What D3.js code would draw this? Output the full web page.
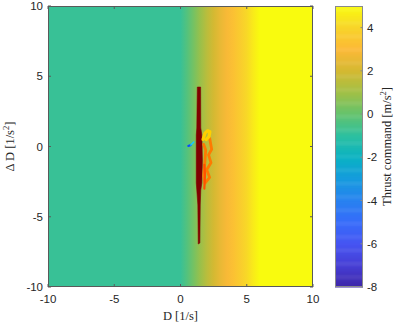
<!DOCTYPE html>
<html><head><meta charset="utf-8">
<script src="https://cdn.jsdelivr.net/npm/d3@7"></script>
<style>body{margin:0;background:#fff}svg{display:block}</style>
</head><body>
<script>
// ---- data ----
const xTicks = [-10, -5, 0, 5, 10];
const yTicks = [-10, -5, 0, 5, 10];
const cbTicks = [-8, -6, -4, -2, 0, 2, 4];
const cbDomain = [-8, 5];
// background thrust command profile along D (independent of ΔD)
const gridD      = [-10, 0, 0.5, 1, 1.5, 2, 2.5, 3, 3.5, 4, 4.5, 5, 5.5, 6, 10];
const gridThrust = [-0.8, -0.8, -0.3, 0.3, 0.9, 1.5, 2.0, 2.5, 2.9, 3.3, 3.7, 4.1, 4.6, 5, 5];
// trajectory pieces [D, ΔD]
const redBand = [[1.27,4.23],[1.52,4.23],[1.53,1.32],[1.61,0.82],[1.65,-0.96],[1.61,-2.6],[1.53,-3.1],[1.49,-4.16],[1.46,-6.87],[1.34,-6.94],[1.31,-4.16],[1.23,-3.1],[1.19,-2.6],[1.19,0.82],[1.23,1.32]];
const yellowPath = [[1.70,0.50],[1.85,0.95],[2.05,1.12],[2.22,1.05],[2.15,0.70],[1.95,0.50]];
const orangePath = [[2.20,0.60],[2.35,-0.20],[2.12,-0.60],[2.30,-1.15],[1.98,-1.65],[2.20,-2.20],[1.85,-2.60],[1.75,-2.10],[1.85,-0.95],[1.90,-0.25],[1.75,0.15]];
const redOrangePath = [[1.80,-1.30],[1.85,-2.00],[1.80,-3.00]];
const bluePath = [[0.59,0.04],[0.78,0.11]];
const cyanPath = [[0.78,0.11],[1.00,0.32]];

// colormap keys (parula-like), one per unit from -8 to 5
const cmapKeys = ["#3e26a8","#463ed4","#4655f2","#376cfa","#2882f0","#169bde","#0ab2c3","#2dc0a0","#64c36e","#a0c046","#d4b932","#fcb937","#f8d42a","#f9fb0e"];

// ---- layout ----
const W = 399, H = 326;
const P = {l: 48, r: 313, t: 6, b: 287};
const CB = {l: 335, r: 363};
const svg = d3.select("body").append("svg").attr("width", W).attr("height", H);
const x = d3.scaleLinear().domain([-10, 10]).range([P.l, P.r]);
const y = d3.scaleLinear().domain([-10, 10]).range([P.b, P.t]);
const color = d3.scaleSequential(d3.piecewise(d3.interpolateRgb, cmapKeys)).domain(cbDomain).clamp(true);
const cbY = d3.scaleLinear().domain(cbDomain).range([P.b, P.t]);

const defs = svg.append("defs");
const grad = defs.append("linearGradient").attr("id", "bg")
  .attr("gradientUnits", "userSpaceOnUse")
  .attr("x1", x(-10)).attr("x2", x(10)).attr("y1", 0).attr("y2", 0);
gridD.forEach((d, i) => grad.append("stop")
  .attr("offset", (x(d) - x(-10)) / (x(10) - x(-10)))
  .attr("stop-color", color(gridThrust[i])));
defs.append("clipPath").attr("id", "clip").append("rect")
  .attr("x", P.l).attr("y", P.t).attr("width", P.r - P.l).attr("height", P.b - P.t);

svg.append("rect").attr("x", P.l).attr("y", P.t).attr("width", P.r - P.l).attr("height", P.b - P.t)
  .attr("fill", "url(#bg)");

const g = svg.append("g").attr("clip-path", "url(#clip)");
const line = d3.line().x(d => x(d[0])).y(d => y(d[1]));
g.append("path").attr("d", line(redBand) + "Z").attr("fill", "#800000").attr("stroke", "#800000").attr("stroke-width", 0.6);
[[orangePath, "#ff7a00", 2.8], [redOrangePath, "#ff5200", 2.2], [yellowPath, "#ffd000", 3.2],
 [bluePath, "#0a4cff", 2.2], [cyanPath, "#18c8ff", 1.6]].forEach(([pts, c, w]) => {
  g.append("path").attr("d", line(pts)).attr("fill", "none").attr("stroke", c)
    .attr("stroke-width", w).attr("stroke-linejoin", "round").attr("stroke-linecap", "round");
});

// axes box and ticks
const axCol = "#262626", boxCol = "#5a5a5a";
svg.append("rect").attr("x", P.l + 0.5).attr("y", P.t + 0.5).attr("width", P.r - P.l - 1).attr("height", P.b - P.t - 1)
  .attr("fill", "none").attr("stroke", boxCol).attr("stroke-width", 1);
const tl = 3;
xTicks.forEach(t => {
  svg.append("line").attr("x1", x(t)).attr("x2", x(t)).attr("y1", P.b).attr("y2", P.b - tl).attr("stroke", boxCol);
  svg.append("line").attr("x1", x(t)).attr("x2", x(t)).attr("y1", P.t).attr("y2", P.t + tl).attr("stroke", boxCol);
  svg.append("text").attr("x", x(t)).attr("y", P.b + 16).attr("text-anchor", "middle")
    .attr("font-family", "Liberation Sans, Arial, sans-serif").attr("font-size", 11.5).attr("fill", axCol).text(t);
});
yTicks.forEach(t => {
  svg.append("line").attr("x1", P.l).attr("x2", P.l + tl).attr("y1", y(t)).attr("y2", y(t)).attr("stroke", boxCol);
  svg.append("line").attr("x1", P.r).attr("x2", P.r - tl).attr("y1", y(t)).attr("y2", y(t)).attr("stroke", boxCol);
  svg.append("text").attr("x", P.l - 5).attr("y", y(t) + 4).attr("text-anchor", "end")
    .attr("font-family", "Liberation Sans, Arial, sans-serif").attr("font-size", 11.5).attr("fill", axCol).text(t);
});

// axis labels
const serif = "Liberation Serif, DejaVu Serif, serif";
svg.append("text").attr("x", x(0)).attr("y", 320).attr("text-anchor", "middle")
  .attr("font-family", serif).attr("font-size", 12.5).attr("fill", axCol).text("D [1/s]");
const yl = svg.append("text").attr("transform", `translate(14,${y(0)}) rotate(-90)`).attr("text-anchor", "middle")
  .attr("font-family", serif).attr("font-size", 12.5).attr("fill", axCol);
yl.append("tspan").text("Δ D [1/s");
yl.append("tspan").attr("font-size", 8.5).attr("dy", -5).text("2");
yl.append("tspan").attr("dy", 5).text("]");

// colorbar
const steps = d3.range(0, 260);
const cbScaleStep = d3.scaleLinear().domain([0, 260]).range(cbDomain);
svg.append("g").selectAll("rect").data(steps).join("rect")
  .attr("x", CB.l).attr("width", CB.r - CB.l)
  .attr("y", d => cbY(cbScaleStep(d + 1)))
  .attr("height", d => cbY(cbScaleStep(d)) - cbY(cbScaleStep(d + 1)) + 0.5)
  .attr("fill", d => color(cbScaleStep(d + 0.5)));
svg.append("rect").attr("x", CB.l + 0.5).attr("y", P.t + 0.5).attr("width", CB.r - CB.l - 1).attr("height", P.b - P.t - 1)
  .attr("fill", "none").attr("stroke", "#8a8a8a").attr("stroke-width", 1);
cbTicks.forEach(t => {
  svg.append("line").attr("x1", CB.r).attr("x2", CB.r - 2.5).attr("y1", cbY(t)).attr("y2", cbY(t)).attr("stroke", "#8a8a8a");
  svg.append("text").attr("x", CB.r + 4).attr("y", cbY(t) + 4).attr("text-anchor", "start")
    .attr("font-family", "Liberation Sans, Arial, sans-serif").attr("font-size", 11.5).attr("fill", axCol).text(t);
});
const cl = svg.append("text").attr("transform", `translate(391,${y(0)}) rotate(-90)`).attr("text-anchor", "middle")
  .attr("font-family", serif).attr("font-size", 12.5).attr("fill", axCol);
cl.append("tspan").text("Thrust command [m/s");
cl.append("tspan").attr("font-size", 8.5).attr("dy", -5).text("2");
cl.append("tspan").attr("dy", 5).text("]");
</script>
</body></html>
